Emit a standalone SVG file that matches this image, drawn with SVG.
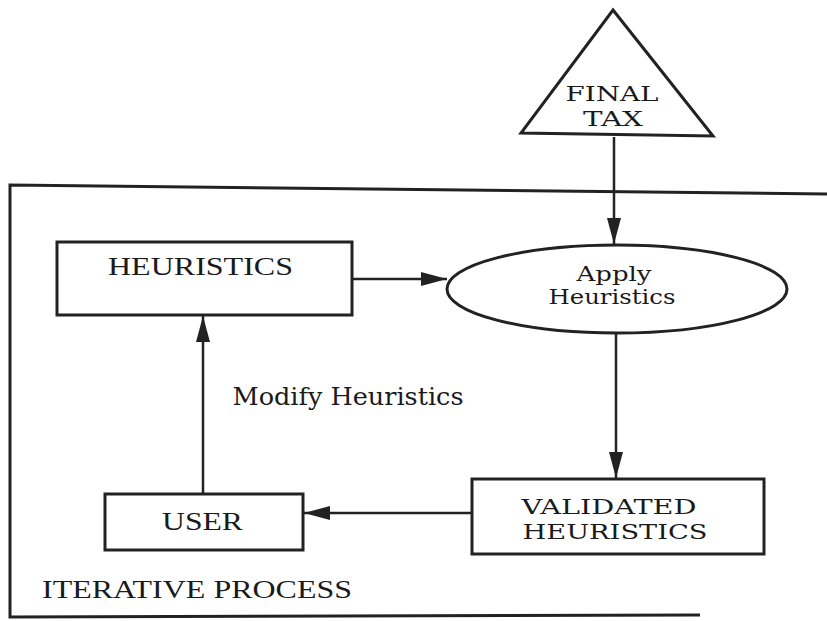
<svg xmlns="http://www.w3.org/2000/svg" width="827" height="621" viewBox="0 0 827 621">
  <defs>
    <marker id="arrow" markerUnits="userSpaceOnUse" viewBox="0 0 26 14" markerWidth="26" markerHeight="14" refX="26" refY="7" orient="auto">
      <path d="M0,0 L26,7 L0,14 z" fill="#222"/>
    </marker>
    <style>
      .shape { fill: none; stroke: #222; stroke-width: 3; }
      .edge { fill: none; stroke: #222; stroke-width: 2.5; marker-end: url(#arrow); }
      .wide { font-family: "DejaVu Serif", "Liberation Serif", serif; font-size: 24px; fill: #1a1a1a; text-anchor: middle; }
      .pair { font-size: 20px; }
      .times { font-family: "Liberation Serif", "Times New Roman", serif; font-size: 26px; fill: #1a1a1a; }
    </style>
  </defs>

  <rect width="827" height="621" fill="#fff"/>

  <!-- iterative process frame (open on the right) -->
  <g id="frame">
    <path class="shape" d="M827,194 L10,185 L10,617 L700,615"/>
    <text class="times" x="42" y="598" textLength="310" lengthAdjust="spacingAndGlyphs">ITERATIVE PROCESS</text>
  </g>

  <g id="final-tax">
    <path class="shape" d="M613,10 L713,136 L521,133 Z"/>
    <text class="wide pair" x="612" y="101" textLength="93" lengthAdjust="spacingAndGlyphs">FINAL</text>
    <text class="wide pair" x="613" y="126" textLength="60" lengthAdjust="spacingAndGlyphs">TAX</text>
  </g>

  <g id="heuristics">
    <rect class="shape" x="57" y="242" width="295" height="73"/>
    <text class="times" x="108" y="275" textLength="185" lengthAdjust="spacingAndGlyphs">HEURISTICS</text>
  </g>

  <g id="apply-heuristics">
    <ellipse class="shape" cx="617" cy="289" rx="170" ry="44"/>
    <text class="wide pair" x="614" y="281" textLength="75" lengthAdjust="spacingAndGlyphs">Apply</text>
    <text class="wide pair" x="612" y="304" textLength="127" lengthAdjust="spacingAndGlyphs">Heuristics</text>
  </g>

  <g id="validated-heuristics">
    <rect class="shape" x="472" y="479" width="292" height="75"/>
    <text class="wide pair" x="609" y="514" textLength="175" lengthAdjust="spacingAndGlyphs">VALIDATED</text>
    <text class="wide pair" x="615" y="539" textLength="185" lengthAdjust="spacingAndGlyphs">HEURISTICS</text>
  </g>

  <g id="user">
    <rect class="shape" x="105" y="494" width="198" height="56"/>
    <text class="times" x="162" y="530" textLength="81" lengthAdjust="spacingAndGlyphs">USER</text>
  </g>

  <g id="connectors">
    <line class="edge" x1="614" y1="137" x2="614" y2="244"/>
    <line class="edge" x1="353" y1="279" x2="447" y2="279"/>
    <line class="edge" x1="616" y1="333" x2="616" y2="478"/>
    <line class="edge" x1="472" y1="513" x2="304" y2="513"/>
    <line class="edge" x1="203" y1="494" x2="203" y2="316"/>
    <text class="wide" x="348" y="405" textLength="231" lengthAdjust="spacingAndGlyphs">Modify Heuristics</text>
  </g>
</svg>
